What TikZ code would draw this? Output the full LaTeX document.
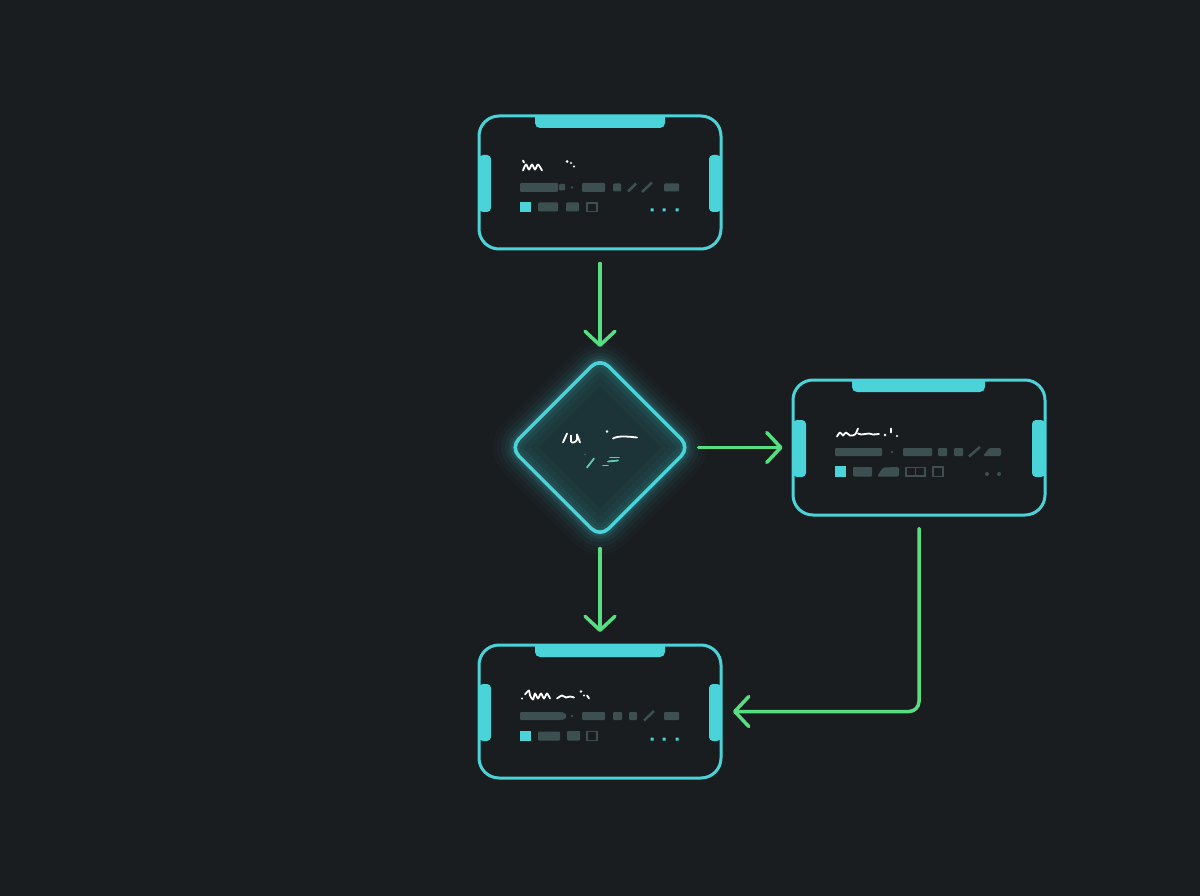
\documentclass[tikz,border=0pt]{standalone}
\usetikzlibrary{shapes.geometric,arrows.meta,calc}
\definecolor{bg}{RGB}{26,29,32}
\definecolor{cy}{RGB}{74,212,218}
\definecolor{gr}{RGB}{88,222,130}
\definecolor{barc}{RGB}{60,80,82}
\definecolor{dfill}{RGB}{28,52,55}
\definecolor{tealtxt}{RGB}{95,205,175}
\tikzset{
  card/.style={rectangle, draw=cy, line width=3pt, fill=bg, rounded corners=20pt, inner sep=0pt},
  barf/.style={fill=barc, rounded corners=1pt},
  hol/.style={draw=barc, line width=1.6pt},
  arr/.style={draw=gr, line width=3.5pt, line cap=round, rounded corners=10pt,
    -{Straight Barb[length=14pt,width=30pt,round]}},
  scr/.style={draw=white, line width=1.8pt, line cap=round, line join=round},
  dotc/.style={fill=cy},
}
\begin{document}
\begin{tikzpicture}[x=1pt,y=-1pt]
\fill[bg] (0,0) rectangle (1200,896);
\useasboundingbox (0,0) rectangle (1200,896);

% ---------- diamond outer glow ----------
\foreach \w/\o in {44/0.02,36/0.03,28/0.04,20/0.06,13/0.08,8/0.1}{
  \draw[cy, line width=\w pt, opacity=\o, rounded corners=12pt, line join=round]
    (600,357.5) -- (690,447.5) -- (600,537.5) -- (510,447.5) -- cycle;
}

% ---------- nodes ----------
\node[card, minimum width=242pt, minimum height=133pt] (top) at (600,182.5) {};
\node[card, minimum width=252pt, minimum height=135pt] (rt) at (919,447.5) {};
\node[card, minimum width=242pt, minimum height=133pt] (bot) at (600,711.5) {};
\node[diamond, draw=cy, line width=3pt, fill=dfill, minimum width=180pt,
      minimum height=180pt, inner sep=0pt, rounded corners=12pt] (dia) at (600,447.5) {};

% ---------- diamond inner glow ----------
\begin{scope}
  \clip[rounded corners=12pt] (600,357.5) -- (690,447.5) -- (600,537.5) -- (510,447.5) -- cycle;
  \foreach \w/\o in {40/0.03,28/0.04,18/0.06,10/0.08}{
    \draw[cy, line width=\w pt, opacity=\o, rounded corners=12pt]
      (600,357.5) -- (690,447.5) -- (600,537.5) -- (510,447.5) -- cycle;
  }
\end{scope}
\draw[cy, line width=3pt, rounded corners=12pt]
  (600,357.5) -- (690,447.5) -- (600,537.5) -- (510,447.5) -- cycle;

% ---------- top card decorations ----------
\begin{scope}[shift={(top.center)}]
  \fill[cy] (-65,-66.5) -- (-65,-60) [rounded corners=5pt] -- (-65,-54.5) -- (65,-54.5) [sharp corners] -- (65,-66.5) -- cycle;
  \fill[cy, rounded corners=4pt] (-121,-27.5) rectangle (-109,29.5);
  \fill[cy, rounded corners=4pt] (109,-27.5) rectangle (121,29.5);
  \draw[scr] (-77,-22) -- (-76,-20);
  \draw[scr] plot[smooth] coordinates {(-77,-12) (-74,-18) (-71,-13) (-68,-18) (-65,-13) (-62,-18) (-58,-12)};
  \fill[white] (-33,-21) circle (1.5) (-29,-19.5) circle (1.2) (-26,-16) circle (1.2);
  \fill[barf] (-80,0.5) rectangle (-42,9.5);
  \fill[barf] (-41,1.5) rectangle (-35,8);
  \fill[barc] (-28,5) circle (1.3);
  \fill[barf] (-18,0.5) rectangle (5,9.5);
  \fill[barf] (13,1) rectangle (21,9);
  \draw[barc, line width=2.5pt] (28,9) -- (36,1);
  \draw[barc, line width=2.5pt] (42,9.5) -- (52,0);
  \fill[barf] (64,1) rectangle (79,9);
  \fill[cy] (-80,19.5) rectangle (-69,29.5);
  \fill[barf] (-62,20) rectangle (-42,29);
  \fill[barf] (-34,20) rectangle (-21,29);
  \draw[hol] (-13,20.5) rectangle (-3,29);
  \fill[dotc] (50.5,26) rectangle (53.5,29) (62.5,26) rectangle (65.5,29) (75.5,26) rectangle (78.5,29);
\end{scope}

% ---------- right card decorations ----------
\begin{scope}[shift={(rt.center)}]
  \fill[cy] (-67,-67.5) -- (-67,-61) [rounded corners=5pt] -- (-67,-55.5) -- (66,-55.5) [sharp corners] -- (66,-67.5) -- cycle;
  \fill[cy, rounded corners=4pt] (-126,-27.5) rectangle (-113,29.5);
  \fill[cy, rounded corners=4pt] (113,-27.5) rectangle (126,29.5);
  \draw[scr] plot[smooth] coordinates {(-82,-11) (-79,-15) (-76,-12) (-73,-15) (-69,-12) (-64,-13) (-61,-19)};
  \draw[scr] (-61,-14) -- (-58,-13) -- (-50,-14) -- (-46,-13) -- (-40,-13.5);
  \fill[white] (-34,-12.5) circle (1.4);
  \draw[scr] (-28,-19) -- (-28,-15);
  \fill[white] (-22,-11.5) circle (1.2);
  \fill[barf] (-84,0.5) rectangle (-37,8.5);
  \fill[barc] (-27,4.5) circle (1.4);
  \fill[barf] (-16,0.5) rectangle (13,8.5);
  \fill[barf] (19,0.5) rectangle (28,8.5);
  \fill[barf] (35,0.5) rectangle (44,8.5);
  \draw[barc, line width=2.5pt] (50,9) -- (61,-0.5);
  \fill[barc, rounded corners=1.5pt] (64,8.5) -- (70,0.5) -- (82,0.5) -- (82,8.5) -- cycle;
  \fill[cy] (-84,18.5) rectangle (-73,29.5);
  \fill[barf] (-66,19.5) rectangle (-47,29);
  \fill[barc, rounded corners=1.5pt] (-42,29) -- (-36,20) -- (-20,19.5) -- (-20,29) -- cycle;
  \draw[hol] (-13,20) rectangle (6,28.5);
  \draw[hol] (-3.5,20) -- (-3.5,28.5);
  \draw[hol] (14,19.5) rectangle (24,29);
  \fill[barc] (68,26.5) circle (2) (80,26.5) circle (2);
\end{scope}

% ---------- bottom card decorations ----------
\begin{scope}[shift={(bot.center)}]
  \fill[cy] (-65,-66.5) -- (-65,-60) [rounded corners=5pt] -- (-65,-54.5) -- (65,-54.5) [sharp corners] -- (65,-66.5) -- cycle;
  \fill[cy, rounded corners=4pt] (-121,-27.5) rectangle (-109,29.5);
  \fill[cy, rounded corners=4pt] (109,-27.5) rectangle (121,29.5);
  \fill[white] (-78,-13) circle (1.2);
  \draw[scr] plot[smooth] coordinates {(-75,-17) (-71,-21) (-70,-16) (-67,-12) (-65,-18) (-62,-13) (-59,-18) (-56,-13) (-53,-18) (-50,-13)};
  \draw[scr] plot[smooth] coordinates {(-43,-13) (-38,-16) (-34,-14) (-30,-15) (-26,-14)};
  \fill[white] (-19,-20) circle (1.3) (-16,-16) circle (1.2);
  \draw[scr] (-13,-16) -- (-11,-13);
  \fill[barc, rounded corners=1pt] (-80,0.5) rectangle (-38,8.5);
  \fill[barc] (-38,0.5) -- (-34,2.5) -- (-34,6.5) -- (-38,8.5) -- cycle;
  \fill[barc] (-28,4.5) circle (1.3);
  \fill[barf] (-18,0.5) rectangle (5,8.5);
  \fill[barf] (13,0.5) rectangle (22,8.5);
  \fill[barf] (29,0.5) rectangle (37,8.5);
  \draw[barc, line width=2.5pt] (44,9) -- (54,-0.5);
  \fill[barf] (64,0.5) rectangle (79,8.5);
  \fill[cy] (-80,19.5) rectangle (-69,29.5);
  \fill[barf] (-62,20) rectangle (-40,29);
  \fill[barf] (-33,19.5) rectangle (-20,29);
  \draw[hol] (-13,20) rectangle (-3,29);
  \fill[dotc] (50.5,26) rectangle (53.5,29) (62.5,26) rectangle (65.5,29) (75.5,26) rectangle (78.5,29);
\end{scope}

% ---------- diamond scribble ----------
\begin{scope}[shift={(dia.center)}]
  \draw[scr] (-37,-5) -- (-33,-14);
  \draw[scr] (-29,-12) -- (-29,-6) .. controls (-28,-4) and (-24,-5) .. (-23,-8) -- (-23,-13) -- (-20,-5);
  \fill[white] (7,-16) circle (1.4);
  \draw[scr] (13,-9) .. controls (18,-12) and (28,-11) .. (37,-10);
  \fill[barc!70!white, opacity=0.5] (-20,-9) circle (1);
  \draw[tealtxt, line width=1.8pt, line cap=round] (-13,20) -- (-6,11);
  \draw[tealtxt, line width=1.8pt, line cap=round] (3,18) -- (8,18);
  \draw[tealtxt, line width=1.8pt, line cap=round] (10,10) -- (19,10);
  \draw[tealtxt, line width=1.8pt, line cap=round] (8,14) -- (18,13);
  \fill[barc!70!white, opacity=0.5] (-15,7) circle (1);
\end{scope}

% ---------- connectors ----------
\draw[arr, shorten <=13pt, shorten >=9pt] (top) -- (dia);
\draw[arr, shorten <=7pt, shorten >=9pt] (dia) -- (rt);
\draw[arr, shorten <=9.5pt, shorten >=11.5pt] (dia) -- (bot);
\draw[arr, shorten <=12pt, shorten >=10.5pt] (rt.south) |- (bot.east);
\end{tikzpicture}
\end{document}
